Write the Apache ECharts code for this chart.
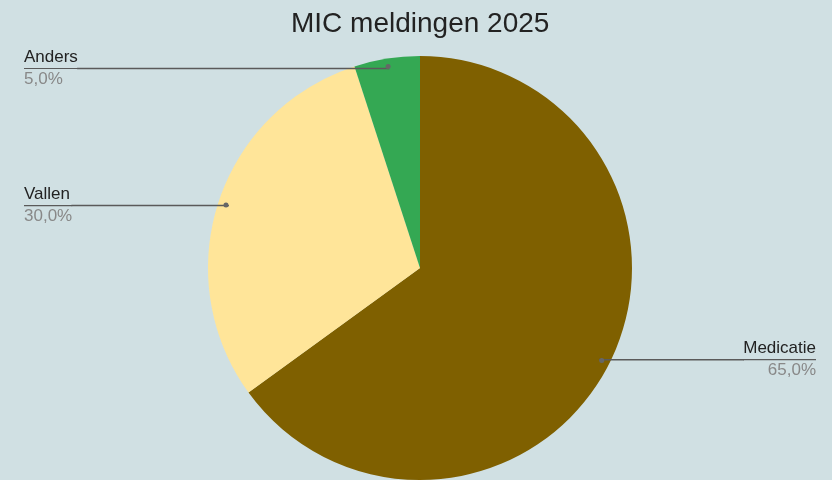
<!DOCTYPE html>
<html><head><meta charset="utf-8">
<script src="https://cdn.jsdelivr.net/npm/echarts@6/dist/echarts.min.js"></script>
<style>html,body{margin:0;padding:0;background:#d0e0e3}#c{width:832px;height:480px}</style>
</head><body><div id="c"></div>
<script>
const title = 'MIC meldingen 2025';
const categories = ['Medicatie', 'Vallen', 'Anders'];
const values = [65, 30, 5];

const palette = ['#7f6000', '#ffe599', '#34a853'];
const data = categories.map((n, i) => ({ name: n, value: values[i] }));
const font = 'Liberation Sans, Arial, sans-serif';
const pct = p => p.percent.toFixed(1).replace('.', ',') + '%';

const common = {
  type: 'pie', left: 8, right: 0, top: 0, bottom: 0,
  center: [412, 268], startAngle: 90, clockwise: true,
  data: data, animation: false
};

const chart = echarts.init(document.getElementById('c'));
chart.setOption({
  backgroundColor: '#d0e0e3',
  color: palette,
  title: {
    text: title, left: 286, top: 5, padding: 5,
    textStyle: { fontFamily: font, fontSize: 28, fontWeight: 'normal', color: '#222' }
  },
  series: [
    Object.assign({}, common, {
      radius: [0, 212], z: 1,
      label: { show: false }, labelLine: { show: false },
      itemStyle: { borderWidth: 0 }, emphasis: { disabled: true }, silent: true
    }),
    Object.assign({}, common, {
      radius: [0, 201], z: 3, silent: true, emphasis: { disabled: true },
      itemStyle: { color: 'transparent', borderWidth: 0 },
      label: {
        show: true, position: 'outside', alignTo: 'edge', edgeDistance: 16,
        distanceToLabelLine: -2,
        formatter: p => '{n|' + p.name + '}\n{hr|}\n{p|' + pct(p) + '}',
        rich: {
          n: { fontFamily: font, fontSize: 17, lineHeight: 22, color: '#222' },
          hr: { borderColor: '#5a5a5a', borderWidth: 1.2, width: '100%', height: 0 },
          p: { fontFamily: font, fontSize: 17, lineHeight: 22, color: '#888' }
        }
      },
      labelLine: { show: true, length: 1, length2: 10, maxSurfaceAngle: 180, lineStyle: { color: '#5a5a5a', width: 1.5 } }
    }),
    Object.assign({}, common, {
      radius: [198, 204], z: 4, silent: true, emphasis: { disabled: true },
      itemStyle: { color: 'transparent', borderWidth: 0 },
      label: {
        show: true, position: 'inside', formatter: '{d|}',
        rich: { d: { width: 5, height: 5, borderRadius: 2.5, backgroundColor: '#666' } }
      },
      labelLine: { show: false }
    })
  ]
});
</script></body></html>
